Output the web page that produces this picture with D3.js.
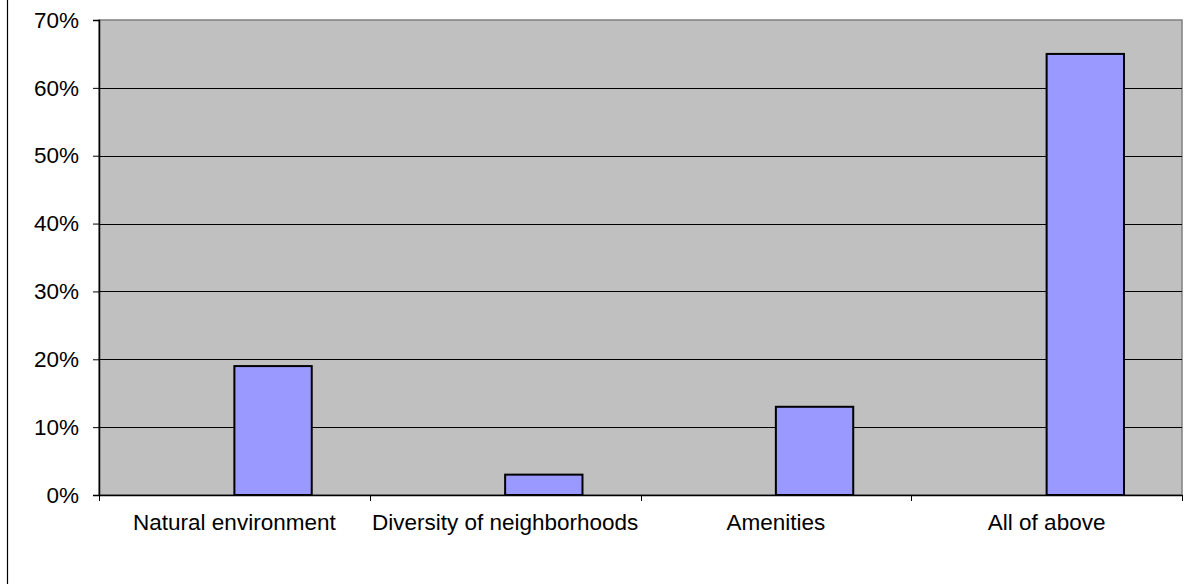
<!DOCTYPE html>
<html>
<head>
<meta charset="utf-8">
<script src="https://cdn.jsdelivr.net/npm/d3@7"></script>
<style>
  html, body { margin: 0; padding: 0; background: #fff; }
  svg { display: block; }
  text { font-family: "Liberation Sans", Arial, sans-serif; fill: #000; }
</style>
</head>
<body>
<svg id="chart" width="1201" height="584"></svg>
<script>
const categories = ["Natural environment", "Diversity of neighborhoods", "Amenities", "All of above"];
const values = [0.19, 0.03, 0.13, 0.65];
const yTicks = [0, 0.1, 0.2, 0.3, 0.4, 0.5, 0.6, 0.7];

const svg = d3.select("#chart");
const m = { left: 99, right: 1182, top: 20, bottom: 495 };
const fontSize = "22.5px";

// chart-area left border
svg.append("line").attr("x1", 7.5).attr("x2", 7.5).attr("y1", 0).attr("y2", 584)
  .attr("stroke", "#000").attr("stroke-width", 1.2);

const x = d3.scaleBand().domain(categories).range([m.left, m.right]).padding(0);
const y = d3.scaleLinear().domain([0, 0.7]).range([m.bottom, m.top]);

// plot area
svg.append("rect")
  .attr("x", m.left).attr("y", m.top)
  .attr("width", m.right - m.left).attr("height", m.bottom - m.top)
  .attr("fill", "#c0c0c0").attr("stroke", "#808080").attr("stroke-width", 1.5);

// gridlines
svg.append("g").selectAll("line").data(yTicks.filter(d => d > 0 && d < 0.7)).join("line")
  .attr("x1", m.left).attr("x2", m.right)
  .attr("y1", d => Math.round(y(d)) + 0.5).attr("y2", d => Math.round(y(d)) + 0.5)
  .attr("stroke", "#000").attr("stroke-width", 1);

// bars (second slot of two, gap width 150%)
const bw = x.bandwidth() / 3.5;
svg.append("g").selectAll("rect").data(values).join("rect")
  .attr("x", (d, i) => x(categories[i]) + x.bandwidth() / 2)
  .attr("y", d => y(d))
  .attr("width", bw)
  .attr("height", d => y(0) - y(d))
  .attr("fill", "#9999ff").attr("stroke", "#000").attr("stroke-width", 2);

// y axis
const yAxis = d3.axisLeft(y).tickValues(yTicks).tickFormat(d3.format(".0%")).tickSize(6).tickPadding(14);
const gy = svg.append("g").attr("transform", `translate(${m.left},0)`).call(yAxis);
gy.select(".domain").attr("stroke", "#000").attr("stroke-width", 1.5);
gy.selectAll(".tick line").attr("stroke", "#000");
gy.selectAll("text").style("font-size", fontSize).style("font-family", '"Liberation Sans", Arial, sans-serif');

// x axis
const xAxis = d3.axisBottom(x).tickSize(0).tickFormat(d => d).tickPadding(0);
const gx = svg.append("g").attr("transform", `translate(0,${m.bottom})`).call(xAxis);
gx.select(".domain").attr("stroke", "#000").attr("stroke-width", 1.5);
gx.selectAll("text").attr("y", 0).attr("dy", "35px")
  .style("font-size", fontSize).style("font-family", '"Liberation Sans", Arial, sans-serif');
// category boundary ticks
svg.append("g").selectAll("line").data(categories.concat(["__end"])).join("line")
  .attr("x1", (d, i) => Math.round(m.left + i * x.step()) + 0.5)
  .attr("x2", (d, i) => Math.round(m.left + i * x.step()) + 0.5)
  .attr("y1", m.bottom).attr("y2", m.bottom + 6)
  .attr("stroke", "#000");
</script>
</body>
</html>
